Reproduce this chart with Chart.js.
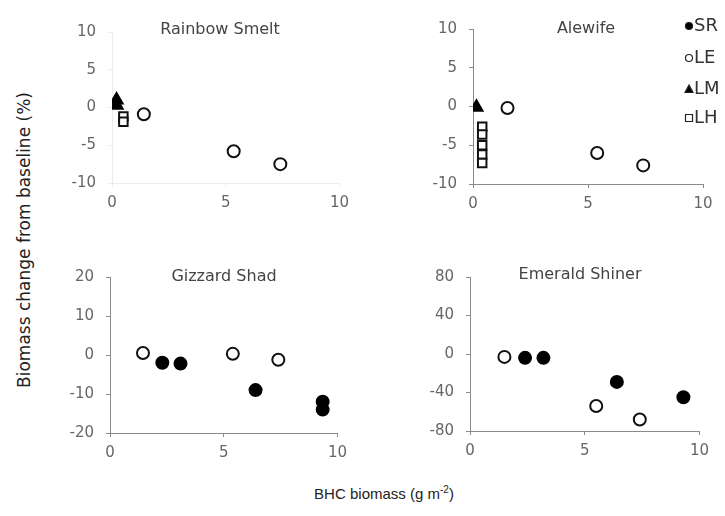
<!DOCTYPE html>
<html>
<head>
<meta charset="utf-8">
<script src="https://cdn.jsdelivr.net/npm/chart.js@4.4.1/dist/chart.umd.min.js"></script>
<style>
    body { margin: 0; background: #fff; width: 725px; height: 516px; overflow: hidden; position: relative; font-family: "Liberation Sans", Arial, sans-serif; }
    .panel { position: absolute; }
    #yTitle { position: absolute; left: 24px; top: 240px; transform: translate(-50%, -50%) rotate(-90deg); white-space: nowrap; font-family: "DejaVu Sans", sans-serif; font-size: 17px; color: #222; }
    #xTitle { position: absolute; left: 384px; top: 493px; transform: translate(-50%, -50%); white-space: nowrap; font-size: 15px; color: #222; }
</style>
</head>
<body>
<div class="panel" id="p1"><canvas id="smeltChart"></canvas></div>
<div class="panel" id="p2"><canvas id="alewifeChart"></canvas></div>
<div class="panel" id="p3"><canvas id="shadChart"></canvas></div>
<div class="panel" id="p4"><canvas id="shinerChart"></canvas></div>
<div id="yTitle">Biomass change from baseline (%)</div>
<div id="xTitle">BHC biomass (g m<sup style="font-size:10px">-2</sup>)</div>

<script>
// Data: x = BHC biomass (g m-2), y = biomass change (%)
const seriesNames = ['SR', 'LE', 'LM', 'LH'];
const xTicks = [0, 5, 10];

// Rainbow Smelt
const smeltLE_x = [1.4, 5.35, 7.4];
const smeltLE_y = [-0.9, -5.8, -7.5];
const smeltLM_x = [0.2, 0.2];
const smeltLM_y = [1.0, 0.3];
const smeltLH_x = [0.5, 0.5];
const smeltLH_y = [-1.2, -1.9];

// Alewife
const alewifeLE_x = [1.5, 5.4, 7.4];
const alewifeLE_y = [-0.2, -6.0, -7.6];
const alewifeLM_x = [0.15];
const alewifeLM_y = [-0.1];
const alewifeLH_x = [0.4, 0.4, 0.4, 0.4, 0.4];
const alewifeLH_y = [-2.6, -3.6, -5.0, -6.2, -7.3];

// Gizzard Shad
const shadLE_x = [1.45, 5.4, 7.4];
const shadLE_y = [0.5, 0.3, -1.2];
const shadSR_x = [2.3, 3.1, 6.4, 9.35, 9.35];
const shadSR_y = [-2, -2.2, -9, -12, -14];

// Emerald Shiner
const shinerLE_x = [1.5, 5.5, 7.4];
const shinerLE_y = [-3, -54, -68];
const shinerSR_x = [2.4, 3.2, 6.4, 9.3];
const shinerSR_y = [-4, -4, -29, -45];

const tickFont = { size: 15, family: '"DejaVu Sans", sans-serif' };

function toPoints(xs, ys) {
    return xs.map((x, i) => ({ x: x, y: ys[i] }));
}

// marker styles per series
const markerStyle = {
    SR: { pointStyle: 'circle', backgroundColor: '#000', borderColor: '#000', pointRadius: 6 },
    LE: { pointStyle: 'circle', backgroundColor: '#fff', borderColor: '#111', pointRadius: 6 },
    LM: { pointStyle: 'triangle', backgroundColor: '#000', borderColor: '#000', pointRadius: 7 },
    LH: { pointStyle: 'rect', backgroundColor: '#fff', borderColor: '#111', pointRadius: 6 }
};

function makeDataset(name, xs, ys) {
    const s = markerStyle[name];
    return {
        label: name,
        data: toPoints(xs, ys),
        pointStyle: s.pointStyle,
        backgroundColor: s.backgroundColor,
        borderColor: s.borderColor,
        pointBackgroundColor: s.backgroundColor,
        pointBorderColor: s.borderColor,
        pointBorderWidth: 2,
        pointRadius: s.pointRadius,
        pointHoverRadius: s.pointRadius,
        showLine: false
    };
}

// Panel title drawn inside the top of the plot area
const panelTitlePlugin = {
    id: 'panelTitle',
    afterDraw(chart, args, opts) {
        const ctx = chart.ctx;
        const area = chart.chartArea;
        ctx.save();
        ctx.font = '16px "DejaVu Sans", sans-serif';
        ctx.fillStyle = '#444';
        ctx.textAlign = 'center';
        ctx.textBaseline = 'middle';
        ctx.fillText(opts.text, opts.cx, area.top + opts.dy);
        ctx.restore();
    }
};

// Legend at the right edge of the Alewife panel (clipped by the page edge)
const sideLegendPlugin = {
    id: 'sideLegend',
    afterDraw(chart, args, opts) {
        if (!opts.show) return;
        const ctx = chart.ctx;
        const rows = [26, 58, 89, 118];
        ctx.save();
        ctx.font = '18px "DejaVu Sans", sans-serif';
        ctx.textBaseline = 'middle';
        seriesNames.forEach((name, i) => {
            const y = rows[i] - opts.top;
            const x = opts.markerX;
            const s = markerStyle[name];
            ctx.fillStyle = s.backgroundColor;
            ctx.strokeStyle = '#222';
            ctx.lineWidth = 1.2;
            ctx.beginPath();
            if (s.pointStyle === 'circle') {
                ctx.arc(x, y, 3.5, 0, Math.PI * 2);
            } else if (s.pointStyle === 'triangle') {
                ctx.moveTo(x, y - 4); ctx.lineTo(x + 4, y + 3.5); ctx.lineTo(x - 4, y + 3.5); ctx.closePath();
            } else {
                ctx.rect(x - 3.5, y - 3.5, 7, 7);
            }
            ctx.fill();
            ctx.stroke();
            ctx.fillStyle = '#333';
            ctx.fillText(name, x + 5, y);
        });
        ctx.restore();
    }
};

// area = plot area in page pixels; container gets fixed margins round it
function makePanel(divId, canvasId, area, yMin, yMax, yStep, datasets, title, axisColor, rightPad) {
    const padL = 60, padT = 14, padB = 36;
    const padR = rightPad || 16;
    const div = document.getElementById(divId);
    const w = area.right - area.left + padL + padR;
    const h = area.bottom - area.top + padT + padB;
    div.style.left = (area.left - padL) + 'px';
    div.style.top = (area.top - padT) + 'px';
    div.style.width = w + 'px';
    div.style.height = h + 'px';

    const ctx = document.getElementById(canvasId).getContext('2d');
    return new Chart(ctx, {
        type: 'scatter',
        data: { datasets: datasets },
        options: {
            responsive: true,
            maintainAspectRatio: false,
            animation: false,
            events: [],
            layout: { padding: { left: 0, top: padT, right: padR, bottom: 0 } },
            scales: {
                x: {
                    type: 'linear',
                    min: 0, max: 10,
                    afterBuildTicks: scale => { scale.ticks = xTicks.map(v => ({ value: v })); },
                    afterFit: scale => { scale.height = padB; },
                    grid: { display: true, drawOnChartArea: false, drawTicks: true, tickLength: 4, color: axisColor },
                    border: { display: true, color: axisColor, width: 1 },
                    ticks: { color: '#666', font: tickFont, padding: 7, maxRotation: 0 }
                },
                y: {
                    type: 'linear',
                    min: yMin, max: yMax,
                    afterFit: scale => { scale.width = padL; },
                    grid: { display: true, drawOnChartArea: false, drawTicks: true, tickLength: 4, color: axisColor },
                    border: { display: true, color: axisColor, width: 1 },
                    ticks: { stepSize: yStep, color: '#666', font: tickFont, padding: 12 }
                }
            },
            plugins: {
                legend: { display: false },
                tooltip: { enabled: false },
                panelTitle: title,
                sideLegend: { show: divId === 'p2', markerX: 689 - (area.left - padL), top: area.top - padT }
            }
        },
        plugins: [panelTitlePlugin, sideLegendPlugin]
    });
}

document.addEventListener('DOMContentLoaded', () => {
    makePanel('p1', 'smeltChart', { left: 112, right: 340, top: 25, bottom: 183 }, -10, 10, 5, [
        makeDataset('LE', smeltLE_x, smeltLE_y),
        makeDataset('LH', smeltLH_x, smeltLH_y),
        makeDataset('LM', smeltLM_x, smeltLM_y)
    ], { text: 'Rainbow Smelt', cx: 220 - 52, dy: -2 }, '#ececec');

    makePanel('p2', 'alewifeChart', { left: 473, right: 703, top: 22, bottom: 184 }, -10, 10, 5, [
        makeDataset('LE', alewifeLE_x, alewifeLE_y),
        makeDataset('LH', alewifeLH_x, alewifeLH_y),
        makeDataset('LM', alewifeLM_x, alewifeLM_y)
    ], { text: 'Alewife', cx: 586 - 413, dy: 0 }, '#8a8a8a', 22);

    makePanel('p3', 'shadChart', { left: 110, right: 338, top: 270, bottom: 433 }, -20, 20, 10, [
        makeDataset('LE', shadLE_x, shadLE_y),
        makeDataset('SR', shadSR_x, shadSR_y)
    ], { text: 'Gizzard Shad', cx: 224 - 50, dy: 0 }, '#8a8a8a');

    makePanel('p4', 'shinerChart', { left: 470, right: 700, top: 270, bottom: 431 }, -80, 80, 40, [
        makeDataset('LE', shinerLE_x, shinerLE_y),
        makeDataset('SR', shinerSR_x, shinerSR_y)
    ], { text: 'Emerald Shiner', cx: 580 - 410, dy: -2 }, '#8a8a8a');
});
</script>
</body>
</html>
